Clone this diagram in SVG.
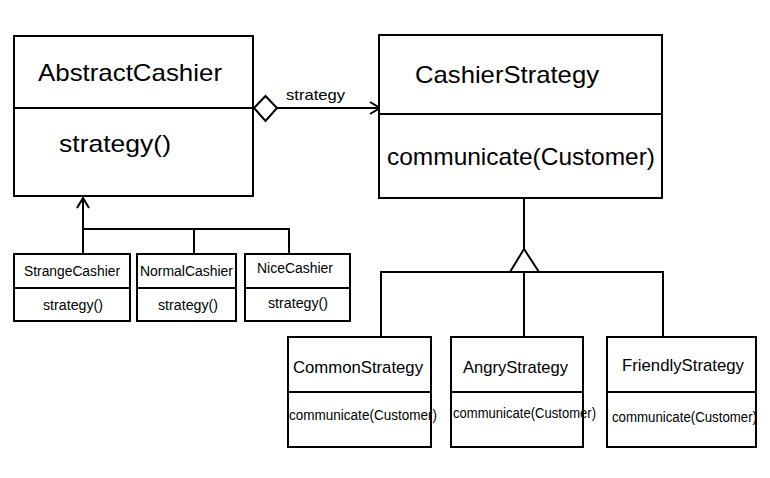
<svg xmlns="http://www.w3.org/2000/svg" width="770" height="478" viewBox="0 0 770 478">
<style>
.box{fill:#fff;stroke:#000;stroke-width:2}
.ln{fill:none;stroke:#000;stroke-width:2}
text{font-family:"Liberation Sans",Arial,sans-serif;fill:#000}
.big{font-size:24px}
.mid{font-size:17px}
.sm{font-size:14px}
.lbl{font-size:15px}
</style>
<defs>
<marker id="open" markerWidth="14" markerHeight="14" refX="12" refY="7" orient="auto" markerUnits="userSpaceOnUse">
<path d="M2,1 L12,7 L2,13" fill="none" stroke="#000" stroke-width="2"/>
</marker>
</defs>
<rect width="770" height="478" fill="#fff"/>
<g id="connectors">
<line class="ln" x1="277" y1="108" x2="380" y2="108" marker-end="url(#open)"/>
<polygon points="254,108 265.5,96 277,108 265.5,121" fill="#fff" stroke="#000" stroke-width="2"/>
<text class="lbl" x="286" y="100" textLength="59" lengthAdjust="spacingAndGlyphs">strategy</text>
<line class="ln" x1="83" y1="254" x2="83" y2="198" marker-end="url(#open)"/>
<polyline class="ln" points="83,229 289,229 289,254"/>
<line class="ln" x1="194" y1="229" x2="194" y2="254"/>
<line class="ln" x1="524" y1="198" x2="524" y2="249"/>
<polygon points="524,249 510,272 539,272" fill="#fff" stroke="#000" stroke-width="2"/>
<polyline class="ln" points="381,337 381,272 663,272 663,337"/>
<line class="ln" x1="524" y1="272" x2="524" y2="337"/>
</g>
<g id="AbstractCashier">
<rect class="box" x="14" y="36" width="239" height="160"/>
<line class="ln" x1="14" y1="108" x2="253" y2="108"/>
<text class="big" x="38" y="81" textLength="184" lengthAdjust="spacingAndGlyphs">AbstractCashier</text>
<text class="big" x="59" y="152" textLength="112" lengthAdjust="spacingAndGlyphs">strategy()</text>
</g>
<g id="CashierStrategy">
<rect class="box" x="379" y="35" width="283" height="163"/>
<line class="ln" x1="379" y1="114" x2="662" y2="114"/>
<text class="big" x="415" y="83" textLength="184" lengthAdjust="spacingAndGlyphs">CashierStrategy</text>
<text class="big" x="387" y="165" textLength="268" lengthAdjust="spacingAndGlyphs">communicate(Customer)</text>
</g>
<g id="StrangeCashier">
<rect class="box" x="14" y="254" width="116" height="67"/>
<line class="ln" x1="14" y1="288" x2="130" y2="288"/>
<text class="sm" x="24" y="276" textLength="96" lengthAdjust="spacingAndGlyphs">StrangeCashier</text>
<text class="sm" x="43" y="310" textLength="60" lengthAdjust="spacingAndGlyphs">strategy()</text>
</g>
<g id="NormalCashier">
<rect class="box" x="137" y="254" width="99" height="67"/>
<line class="ln" x1="137" y1="288" x2="236" y2="288"/>
<text class="sm" x="140" y="276" textLength="93" lengthAdjust="spacingAndGlyphs">NormalCashier</text>
<text class="sm" x="158" y="310" textLength="60" lengthAdjust="spacingAndGlyphs">strategy()</text>
</g>
<g id="NiceCashier">
<rect class="box" x="245" y="254" width="105" height="67"/>
<line class="ln" x1="245" y1="288" x2="350" y2="288"/>
<text class="sm" x="257" y="273" textLength="76" lengthAdjust="spacingAndGlyphs">NiceCashier</text>
<text class="sm" x="268" y="308" textLength="60" lengthAdjust="spacingAndGlyphs">strategy()</text>
</g>
<g id="CommonStrategy">
<rect class="box" x="288" y="337" width="143" height="110"/>
<line class="ln" x1="288" y1="392" x2="431" y2="392"/>
<text class="mid" x="293" y="373" textLength="130" lengthAdjust="spacingAndGlyphs">CommonStrategy</text>
<text class="sm" x="289" y="420" textLength="148" lengthAdjust="spacingAndGlyphs">communicate(Customer)</text>
</g>
<g id="AngryStrategy">
<rect class="box" x="451" y="337" width="132" height="110"/>
<line class="ln" x1="451" y1="392" x2="583" y2="392"/>
<text class="mid" x="463" y="373" textLength="105" lengthAdjust="spacingAndGlyphs">AngryStrategy</text>
<text class="sm" x="453" y="418" textLength="143" lengthAdjust="spacingAndGlyphs">communicate(Customer)</text>
</g>
<g id="FriendlyStrategy">
<rect class="box" x="607" y="337" width="149" height="110"/>
<line class="ln" x1="607" y1="392" x2="756" y2="392"/>
<text class="mid" x="622" y="371" textLength="122" lengthAdjust="spacingAndGlyphs">FriendlyStrategy</text>
<text class="sm" x="612" y="422" textLength="145" lengthAdjust="spacingAndGlyphs">communicate(Customer)</text>
</g>
</svg>
